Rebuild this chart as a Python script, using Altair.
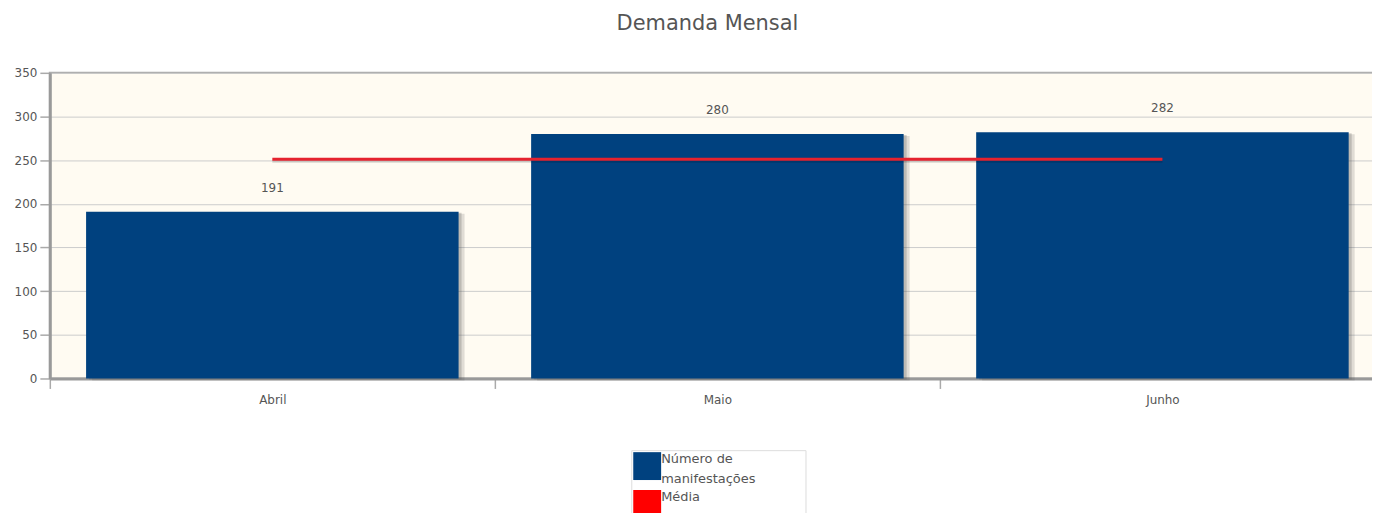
import altair as alt
import pandas as pd

meses = ["Abril", "Maio", "Junho"]
manifestacoes = [191, 280, 282]
media = [251, 251, 251]
series = ["Número de manifestações", "Média"]
cores = ["#00417f", "#ff0000"]
y_ticks = [0, 50, 100, 150, 200, 250, 300, 350]

FONT = "DejaVu Sans"
TXT = "#555555"
STEP = 447

df = pd.DataFrame({"mes": meses, "valor": manifestacoes, "media": media,
                   "serie": [series[0]] * len(meses)})

x = alt.X("mes:N", sort=meses, title=None,
          scale=alt.Scale(paddingInner=0.163, paddingOuter=0.0815),
          axis=alt.Axis(labelAngle=0, tickSize=10, tickOffset=-STEP / 2,
                        labelOffset=STEP / 2,
                        tickColor="#aaaaaa", tickWidth=1.5, domainColor="#999999",
                        domainWidth=3, labelPadding=6, labelFontSize=12,
                        labelColor=TXT, labelFont=FONT, grid=False))
y = alt.Y("valor:Q", title=None,
          scale=alt.Scale(domain=[0, 350], nice=False),
          axis=alt.Axis(values=y_ticks, tickSize=10, tickColor="#aaaaaa",
                        tickWidth=1.5, domainColor="#999999", domainWidth=3,
                        labelPadding=3, labelFontSize=12, labelColor=TXT,
                        labelFont=FONT, grid=True, gridColor="#cccccc",
                        gridWidth=1))

base = alt.Chart(df)

shadow1 = base.mark_bar(color="#555555", opacity=0.18, xOffset=6, yOffset=2).encode(x=x, y=y)
shadow2 = base.mark_bar(color="#555555", opacity=0.25, xOffset=3, yOffset=1).encode(x=x, y=y)

pad = "\u2800" * 5
bars = base.mark_bar().encode(
    x=x, y=y,
    color=alt.Color("serie:N",
                    scale=alt.Scale(domain=series, range=cores),
                    legend=alt.Legend(
                        title=None, orient="none", legendX=584, legendY=379,
                        symbolType="square", symbolSize=784, symbolStrokeWidth=0,
                        symbolOpacity=1, padding=2, strokeColor="#dddddd",
                        labelFontSize=13, labelColor=TXT, labelFont=FONT,
                        labelOffset=0, rowPadding=4, labelLimit=300,
                        labelBaseline="bottom",
                        labelExpr="datum.label == 'Número de manifestações' ? ['Número de', 'manifestações" + pad + "'] : datum.label",
                    )),
)

labels = base.mark_text(dy=-24, fontSize=12, color=TXT, font=FONT).encode(
    x=x, y=y, text=alt.Text("valor:Q"))

line_shadow = base.mark_line(color="#000000", opacity=0.15, strokeWidth=3, yOffset=2).encode(
    x=x, y=alt.Y("media:Q"))
line = base.mark_line(color="#e5222e", strokeWidth=3).encode(
    x=x, y=alt.Y("media:Q"))

chart = alt.layer(shadow1, shadow2, bars, labels, line_shadow, line).properties(
    width=1341, height=307,
    title=alt.Title("Demanda Mensal", fontSize=21, color=TXT, font=FONT,
                    fontWeight="normal", anchor="middle", offset=33, dx=-10),
    autosize=alt.AutoSizeParams(type="none"),
    padding={"left": 42, "top": 64, "right": -13, "bottom": 134},
).configure(
    view=alt.ViewConfig(fill="#fffbf2", stroke="#aaaaaa", strokeWidth=2),
    style={"guide-label": {"lineHeight": 20}},
)

chart.save("out.html", embed_options={"renderer": "svg", "actions": False})
